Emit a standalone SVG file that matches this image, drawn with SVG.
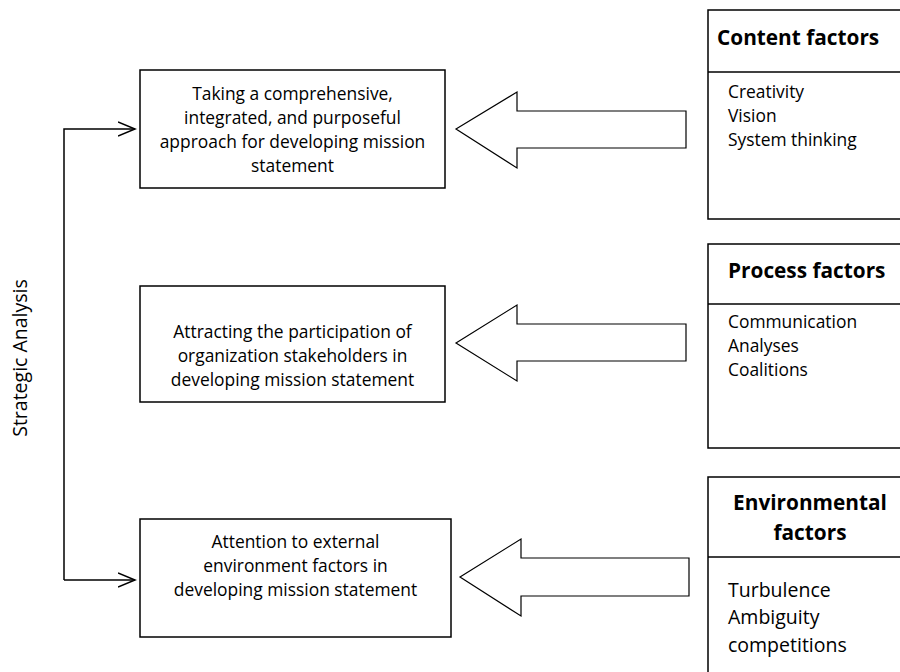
<svg xmlns="http://www.w3.org/2000/svg" width="900" height="672" viewBox="0 0 900 672">
<style>
text{font-family:"Open Sans","Liberation Sans",sans-serif;fill:#000}
.t{font-size:17.4px;text-anchor:middle}
.i{font-size:17.4px}
.e{font-size:19.5px}
.s{font-size:19.5px}
.h{font-size:20.8px;font-weight:bold}
.box{fill:#fff;stroke:#000;stroke-width:1.5}
.ln{fill:none;stroke:#000;stroke-width:1.5}
.blk{fill:#fff;stroke:#000;stroke-width:1.2}
</style>
<defs>
<marker id="open" markerWidth="20" markerHeight="16" refX="17" refY="8" orient="auto" markerUnits="userSpaceOnUse">
<path d="M0,1 L17,8 L0,15" fill="none" stroke="#000" stroke-width="1.5"/>
</marker>
</defs>
<g id="connectors">
<path class="ln" d="M64,580 V129 H135" marker-end="url(#open)"/>
<path class="ln" d="M64,580 H135" marker-end="url(#open)"/>
<polygon class="blk" points="456,129 517,92 517,111 686,111 686,148 517,148 517,168"/>
<polygon class="blk" points="456,343 517,305 517,324 686,324 686,361 517,361 517,381"/>
<polygon class="blk" points="460,577 521,539 521,558 689,558 689,596 521,596 521,616"/>
</g>
<g id="label-strategic">
<text class="s" transform="translate(27,358) rotate(-90)" text-anchor="middle">Strategic Analysis</text>
</g>
<g id="node-approach">
<rect class="box" x="140" y="70" width="305" height="118"/>
<text class="t" x="292.5" y="100">Taking a comprehensive,</text>
<text class="t" x="292.5" y="124">integrated, and purposeful</text>
<text class="t" x="292.5" y="148">approach for developing mission</text>
<text class="t" x="292.5" y="172">statement</text>
</g>
<g id="node-participation">
<rect class="box" x="140" y="286" width="305" height="116"/>
<text class="t" x="292.5" y="338">Attracting the participation of</text>
<text class="t" x="292.5" y="362">organization stakeholders in</text>
<text class="t" x="292.5" y="386">developing mission statement</text>
</g>
<g id="node-external">
<rect class="box" x="140" y="519" width="311" height="118"/>
<text class="t" x="295.5" y="548">Attention to external</text>
<text class="t" x="295.5" y="572">environment factors in</text>
<text class="t" x="295.5" y="596">developing mission statement</text>
</g>
<g id="node-content">
<rect class="box" x="708" y="10" width="200" height="209"/>
<line class="ln" x1="708" y1="72" x2="908" y2="72"/>
<text class="h" x="717" y="45">Content factors</text>
<text class="i" x="728" y="98">Creativity</text>
<text class="i" x="728" y="122">Vision</text>
<text class="i" x="728" y="146">System thinking</text>
</g>
<g id="node-process">
<rect class="box" x="708" y="244" width="200" height="204"/>
<line class="ln" x1="708" y1="304" x2="908" y2="304"/>
<text class="h" x="728" y="278">Process factors</text>
<text class="i" x="728" y="328">Communication</text>
<text class="i" x="728" y="352">Analyses</text>
<text class="i" x="728" y="376">Coalitions</text>
</g>
<g id="node-environmental">
<rect class="box" x="708" y="477" width="200" height="210"/>
<line class="ln" x1="708" y1="557" x2="908" y2="557"/>
<text class="h" x="810" y="510" text-anchor="middle">Environmental</text>
<text class="h" x="810" y="540" text-anchor="middle">factors</text>
<text class="e" x="728" y="597">Turbulence</text>
<text class="e" x="728" y="624">Ambiguity</text>
<text class="e" x="728" y="652">competitions</text>
</g>
</svg>
